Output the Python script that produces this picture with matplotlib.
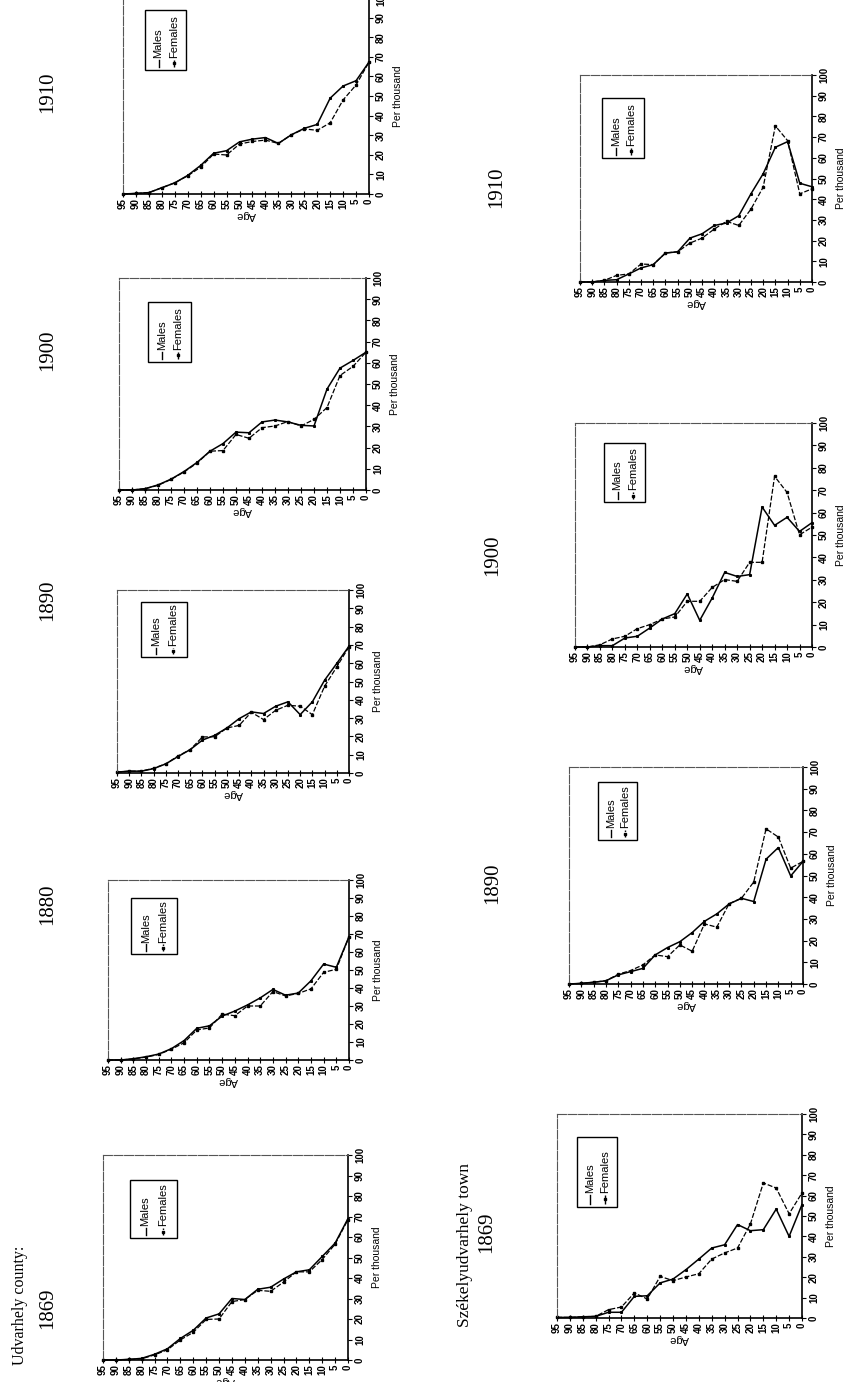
import matplotlib
matplotlib.use("Agg")
import matplotlib.pyplot as plt
from matplotlib.lines import Line2D
from matplotlib.patches import Rectangle
from matplotlib import font_manager

W, H = 858, 1382

# age groups, read left to right on every panel
ages = [95, 90, 85, 80, 75, 70, 65, 60, 55, 50, 45, 40, 35, 30, 25, 20, 15, 10, 5, 0]
age_labels = [str(a) for a in ages]
per_ticks = list(range(0, 101, 10))

# Udvarhely county, per thousand
county_1869_m = [0, 0, 0.3, 0.8, 2.8, 5.5, 10.5, 14.5, 20.5, 22.5, 30, 29.5, 34.5, 35.5, 39.5, 43, 44, 50.5, 57, 69]
county_1869_f = [0, 0, 0.3, 0.6, 2.5, 5, 9.8, 13.5, 19.8, 20, 28.5, 29.5, 34, 33.5, 38, 43, 43, 49, 56.5, 68.5]
county_1880_m = [0, 0, 0.7, 1.8, 3.3, 6.3, 10.8, 17.6, 19, 24.4, 27.2, 30.6, 34.5, 39.2, 36, 37.2, 44, 53.3, 51.5, 68.5]
county_1880_f = [0, 0, 0.6, 1.6, 3.1, 6, 9.6, 16.7, 17.8, 25.5, 24.6, 30, 30, 38, 35.6, 37, 39.5, 48.7, 50.4, 68.5]
county_1890_m = [0.5, 1, 1, 2.4, 5, 9, 12.8, 18, 20.6, 24.6, 29.7, 33.4, 32.5, 36.5, 38.9, 31.9, 38.9, 50.7, 59.9, 69.3]
county_1890_f = [0.5, 1, 1, 2.6, 5, 9.3, 12.8, 19.7, 19.8, 24.6, 26, 33.2, 29.2, 34.3, 37, 36.5, 31.9, 47.4, 58, 69]
county_1900_m = [0, 0, 0.6, 2.4, 5.1, 8.7, 13, 18.3, 21.9, 27.3, 27, 32.1, 33, 32.1, 30.5, 30.2, 47.6, 57.5, 61.1, 65]
county_1900_f = [0, 0, 0.6, 2.2, 5, 8.5, 12.7, 18.3, 18.6, 26.2, 24.4, 29.4, 30.2, 32.3, 30.2, 33.3, 38.9, 54, 58.3, 65]
county_1910_m = [0, 0.3, 0.7, 3.2, 5.7, 9.5, 14.6, 20.8, 22.1, 26.6, 28, 28.8, 25.8, 30.2, 33.5, 35.5, 48.9, 55.1, 57.8, 67.3]
county_1910_f = [0, 0.3, 0.7, 3.2, 5.7, 9.3, 13.7, 20.4, 19.9, 25.5, 26.8, 27.5, 25.8, 30.2, 33.2, 32.5, 36.3, 48, 55.6, 67.3]

# Székelyudvarhely town, per thousand
town_1869_m = [0.3, 0.3, 0.6, 0.8, 2.8, 2.8, 10.6, 10.9, 17.2, 19.1, 23.7, 28.9, 34.3, 35.9, 45.8, 42.8, 43.3, 53.4, 40, 55.6]
town_1869_f = [0.3, 0.3, 0.6, 0.8, 4.1, 5.4, 12.3, 9.3, 20.4, 18.3, 20.1, 21.7, 28.9, 31.9, 34.3, 46.1, 66.2, 63.7, 51.1, 61.3]
town_1890_m = [0, 0.3, 0.8, 1.5, 4.2, 5.7, 7.2, 13.4, 16.8, 19.5, 23.7, 28.9, 32.3, 36.9, 39.5, 38, 57.5, 62.9, 49.8, 56.5]
town_1890_f = [0, 0.3, 0.8, 1.5, 4.5, 6.2, 8.8, 13.4, 12.6, 18, 15.1, 27.7, 26.2, 37, 39.5, 47, 71.5, 67.7, 53.4, 56.5]
town_1900_m = [0, 0, 0.6, 0.6, 4, 4.8, 8.5, 12.5, 14.9, 23.7, 11.9, 21.9, 33.3, 31.5, 32.3, 62.5, 54.3, 57.9, 51.6, 55.5]
town_1900_f = [0, 0, 1, 3.6, 4.8, 8.2, 10, 12.5, 13.4, 20.4, 20.4, 26.6, 30.1, 29.3, 37.8, 37.8, 76.2, 69, 50.1, 53.5]
town_1910_m = [0, 0, 0.8, 1.1, 3.9, 6.8, 8.4, 14, 14.6, 21.2, 23.3, 27.3, 28.5, 32, 42.6, 52.3, 65.1, 67.8, 47.7, 46]
town_1910_f = [0, 0, 0.8, 3.2, 3.9, 8.7, 8.4, 14, 14.6, 18.8, 21.2, 25.6, 29.3, 27.3, 35.2, 45.8, 75.4, 68.3, 42.6, 45]

installed = {f.name for f in font_manager.fontManager.ttflist}
SANS = [f for f in ["Liberation Sans Narrow", "Liberation Sans", "DejaVu Sans"] if f in installed]
SERIF = [f for f in ["Liberation Serif", "DejaVu Serif"] if f in installed]

fig = plt.figure(figsize=(W / 100, H / 100), dpi=100)


def fx(x):
    return x / W


def fy(y):
    return 1 - y / H


def draw_legend(box):
    x0, y0, x1, y1 = box
    w, h = x1 - x0, y1 - y0
    fig.add_artist(Rectangle((fx(x0), fy(y1)), w / W, h / H, transform=fig.transFigure,
                             fill=False, ec="black", lw=1.0))
    entries = [(0.33, "Males", "-", "none"), (0.70, "Females", (0, (3, 1)), "s")]
    for frac, name, ls, mk in entries:
        cx = fx(x0 + frac * w)
        ys = [fy(y1 - 0.05 * h), fy(y1 - 0.11 * h), fy(y1 - 0.17 * h)]
        fig.add_artist(Line2D([cx] * 3, ys, transform=fig.transFigure, color="black",
                              lw=1.0, ls=ls, marker=mk, ms=1.8, markevery=[1]))
        fig.text(cx, fy(y1 - 0.2 * h), name, rotation=90, ha="center", va="bottom",
                 fontsize=8, family=SANS)


def draw_panel(box, males, females, legend_box):
    L, T, R, B = box
    ax = fig.add_axes([fx(L), fy(B), (R - L) / W, (B - T) / H])
    ax.plot(ages, males, color="black", lw=1.1, marker="s", ms=1.2, clip_on=False)
    ax.plot(ages, females, color="black", lw=0.9, ls=(0, (4, 1.5)), marker="s", ms=1.7, clip_on=False)
    ax.set_xlim(95, 0)
    ax.set_ylim(0, 100)
    ax.set_xticks(ages)
    ax.set_xticklabels(age_labels, rotation=90, fontsize=7, fontweight="bold", family=SANS)
    ax.yaxis.tick_right()
    ax.yaxis.set_label_position("right")
    ax.set_yticks(per_ticks)
    ax.set_yticklabels([str(v) for v in per_ticks], rotation=90, va="center",
                       fontsize=7, fontweight="bold", family=SANS)
    ax.set_ylabel("Per thousand", fontsize=7.5, family=SANS, labelpad=5)
    ax.set_xlabel("Age", rotation=180, fontsize=8, family=SANS, labelpad=1)
    ax.tick_params(axis="x", direction="inout", length=4, width=0.8, pad=1)
    ax.tick_params(axis="y", direction="out", length=3, width=0.8, pad=2)
    for s in ["top", "left"]:
        ax.spines[s].set_linewidth(0.8)
        ax.spines[s].set_color("#555555")
        ax.spines[s].set_linestyle((0, (8, 1.5)))
    for s in ["right", "bottom"]:
        ax.spines[s].set_linewidth(1.2)
    draw_legend(legend_box)
    return ax


# panels: axes box (left, top, right, bottom px), legend box (same order)
panels = [
    ((103, 1155, 348, 1360), county_1869_m, county_1869_f, (130, 1180, 177, 1238)),
    ((108, 880, 349, 1060), county_1880_m, county_1880_f, (131, 898, 177, 954)),
    ((117, 590, 349, 773), county_1890_m, county_1890_f, (141, 602, 187, 657)),
    ((119, 278, 366, 490), county_1900_m, county_1900_f, (148, 302, 191, 362)),
    ((123, -2, 369, 194), county_1910_m, county_1910_f, (145, 10, 186, 70)),
    ((557, 1114, 802, 1318), town_1869_m, town_1869_f, (577, 1137, 617, 1207)),
    ((569, 767, 803, 984), town_1890_m, town_1890_f, (598, 782, 637, 840)),
    ((575, 423, 812, 647), town_1900_m, town_1900_f, (604, 443, 645, 502)),
    ((580, 75, 812, 282), town_1910_m, town_1910_f, (602, 98, 644, 158)),
]
for box, m, f, lb in panels:
    draw_panel(box, m, f, lb)

# section and year headings (rotated like the scanned page)
titles = [
    ("Udvarhely county:", 20, 1305, 11.5),
    ("1869", 48, 1308, 15),
    ("1880", 48, 904, 15),
    ("1890", 48, 600, 15),
    ("1900", 48, 350, 15),
    ("1910", 48, 92, 15),
    ("Székelyudvarhely town", 465, 1245, 12.5),
    ("1869", 487, 1232, 15),
    ("1890", 493, 883, 15),
    ("1900", 493, 555, 15),
    ("1910", 497, 187, 15),
]
for txt, x, y, size in titles:
    fig.text(fx(x), fy(y), txt, rotation=90, ha="center", va="center", fontsize=size, family=SERIF)

fig.savefig("out.png", dpi=100)
